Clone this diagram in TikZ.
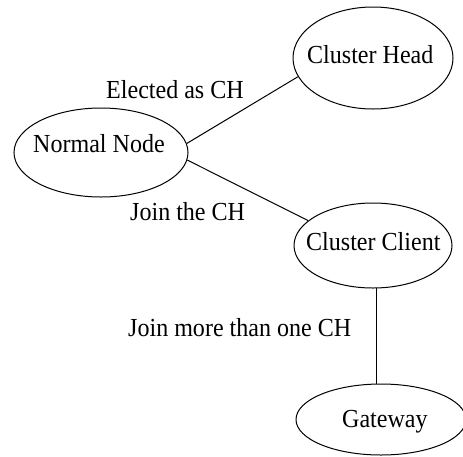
\documentclass[tikz,border=0pt]{standalone}
\usepackage{fontspec}
\setmainfont[FakeStretch=0.925]{Liberation Serif}
\usetikzlibrary{shapes.geometric}
\begin{document}
\begin{tikzpicture}[x=1pt,y=-1pt,
  ell/.style={draw=black,line width=1pt,ellipse,inner sep=0pt},
  lbl/.style={inner sep=0pt,anchor=base west,font=\fontsize{26}{30}\selectfont,text=black},
  conn/.style={draw=black,line width=1pt}]
\useasboundingbox (0,0) rectangle (463,456);
\begin{scope}
\clip (0,0) rectangle (463,456);
\node[ell,minimum width=160pt,minimum height=102pt] (ch) at (373,58) {};
\node[ell,minimum width=174pt,minimum height=89pt] (nn) at (101,152.5) {};
\node[ell,minimum width=158pt,minimum height=85pt] (cc) at (373,245.5) {};
\node[ell,minimum width=170pt,minimum height=71pt] (gw) at (381,419.5) {};
\end{scope}
\node[lbl] (tch) at (307,63) {Cluster Head};
\node[lbl] (tnn) at (33,152) {Normal Node};
\node[lbl] (tcc) at (306,250) {Cluster Client};
\node[lbl] (tgw) at (342,427) {Gateway};
\node[lbl] (l1) at (106,98) {Elected as CH};
\node[lbl] (l2) at (130,220) {Join the CH};
\node[lbl] (l3) at (128,336) {Join more than one CH};
\draw[conn] (nn.6.2) -- (ch.194);
\draw[conn] (nn.-5) -- (cc.159.6);
\draw[conn] (cc.274) -- (cc.274 |- gw.north);
\end{tikzpicture}
\end{document}
